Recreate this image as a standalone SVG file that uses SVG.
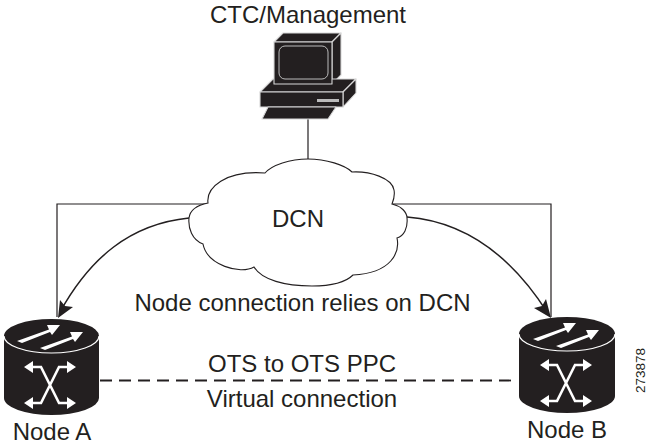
<svg xmlns="http://www.w3.org/2000/svg" width="647" height="448" viewBox="0 0 647 448">
<style>
text{font-family:"Liberation Sans",Arial,sans-serif;font-size:24px;fill:#231f20}
.c{text-anchor:middle}
.ln{fill:none;stroke:#231f20;stroke-width:1.2}
.body{fill:#231f20}
.w{fill:none;stroke:#fff;stroke-width:1.2}
.wf{fill:#fff}
.pc{fill:#231f20;stroke:#d8d8d8;stroke-width:1.1;stroke-linejoin:round}
</style>
<defs>
<g id="xa">
<path class="w" style="stroke-width:2.6" d="M-20 -18H-9L9 18H20M20 -18H9L-9 18H-20"/>
<path class="wf" d="M-26 -18L-17 -24V-12ZM26 -18L17 -24V-12ZM-26 18L-17 12V24ZM26 18L17 12V24Z"/>
<path class="wf" d="M-33 -44L-1 -55.500 -3 -60 10 -60 2 -50 0 -53 -28 -42ZM-10 -37L22 -48.500 20 -53 33 -53 25 -43 23 -46 -5 -35Z"/>
</g>
</defs>
<g id="connectors">
<path class="ln" d="M308 119V160"/>
<path class="ln" d="M208 204H57V317"/>
<path class="ln" d="M392 204H551V317"/>
<path class="ln" style="stroke-width:1.5" d="M189 218C130 224 90 258 60 312"/>
<path class="body" d="M58 318L60 300 65 306 73 307Z"/>
<path class="ln" style="stroke-width:1.5" d="M407 217C470 222 515 262 547 312"/>
<path class="body" d="M551 318L534 308 542 306 546 299Z"/>
<path class="ln" style="stroke-width:1.8;stroke-dasharray:12 7" d="M100 380.500H512"/>
</g>
<g id="dcn">
<path d="M308 159C326 159 345 165 352 172C370 171 392 178 394 190C395 195 394 199 392 204C401 206 407 212 407 218C408 228 404 236 397 238C400 252 392 273 353 275C345 283 328 286 312 286C285 286 262 280 254 267C240 275 207 265 203 244C192 240 188 228 189 218C190 210 198 205 208 203C206 188 225 170 265 173C272 165 290 159 308 159Z" fill="#fff" stroke="#231f20" stroke-width="1.1"/>
<text class="c" x="298" y="227">DCN</text>
</g>
<g id="ctc">
<path class="pc" d="M283 33H341L332 42H274Z"/>
<path class="pc" d="M341 33V75L332 84V42Z"/>
<path class="pc" d="M273 79H356L343 92H260Z"/>
<path class="pc" d="M356 79V93L343 107V92Z"/>
<rect class="pc" x="274" y="42" width="58" height="42"/>
<rect x="279" y="46" width="49" height="33" rx="6" fill="#231f20" stroke="#bbb" stroke-width="1"/>
<rect class="pc" x="260" y="92" width="83" height="15"/>
<rect x="317" y="99" width="22" height="3" fill="#bbb"/>
<path class="pc" d="M268 107H336L328 119H262Z"/>
<text class="c" x="308" y="23">CTC/Management</text>
</g>
<g id="nodeA">
<path class="body" d="M4 336A47.500 17 0 0 1 99 336V398A47.500 17 0 0 1 4 398Z"/>
<path class="w" d="M4 336A47.500 17 0 0 0 99 336"/>
<use href="#xa" x="50" y="385"/>
<text class="c" x="52" y="440">Node A</text>
</g>
<g id="nodeB">
<path class="body" d="M519 334A48 17 0 0 1 615 334V396A48 17 0 0 1 519 396Z"/>
<path class="w" d="M519 334A48 17 0 0 0 615 334"/>
<use href="#xa" x="566" y="383"/>
<text class="c" x="567" y="438">Node B</text>
</g>
<text class="c" x="302.500" y="311">Node connection relies on DCN</text>
<text class="c" x="302" y="372">OTS to OTS PPC</text>
<text class="c" x="302" y="407">Virtual connection</text>
<text transform="translate(645 393) rotate(-90)" style="font-size:13.500px">273878</text>
</svg>
